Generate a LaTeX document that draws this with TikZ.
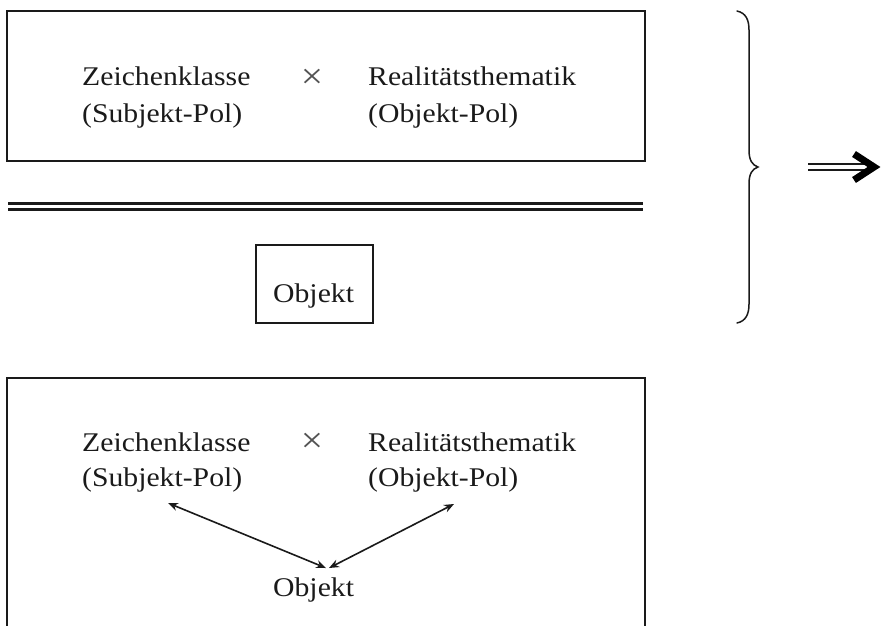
\documentclass[tikz,border=0pt]{standalone}
\usepackage{fontspec}
\setmainfont{Liberation Serif}[FakeStretch=1.1]
\usetikzlibrary{arrows.meta}
\definecolor{ink}{HTML}{1A1A1A}
\begin{document}
\begin{tikzpicture}[x=1pt,y=-1pt,
  txt/.style={anchor=base west,inner sep=0pt,font=\fontsize{27}{37}\selectfont,text=ink},
  timessign/.style={inner sep=0pt,font=\fontsize{36}{40}\selectfont,text=ink!75},
  frame/.style={draw=ink,line width=2.2pt},
  rel/.style={draw=ink,line width=1.6pt,{Stealth[length=10pt,width=8pt]}-{Stealth[length=10pt,width=8pt]}}]
\useasboundingbox (0,0) rectangle (882,625);

% upper part: sign class times reality thematic
\draw[frame] (7,11) rectangle (645,161);
\node[txt] (zk1) at (82,85) {Zeichenklasse};
\node[txt] (sp1) at (82,122) {(Subjekt-Pol)};
\node[timessign] (x1) at (312,79) {×};
\node[txt] (rt1) at (368,85) {Realitätsthematik};
\node[txt] (op1) at (368,122) {(Objekt-Pol)};

% double rule
\draw[draw=ink,line width=2.6pt] (8,203.5) -- (643,203.5);
\draw[draw=ink,line width=2.6pt] (8,209.5) -- (643,209.5);

% object below the rule
\draw[draw=ink,line width=2pt] (256,245) rectangle (373,323);
\node[txt] (ob1) at (273,302) {Objekt};

% right brace
\draw[draw=ink,line width=1.5pt,line cap=round]
  (737,11) .. controls (746,13) and (749,20) .. (749,30)
  -- (749,150) .. controls (749,160) and (752,165) .. (758,167)
  .. controls (752,169) and (749,174) .. (749,184)
  -- (749,304) .. controls (749,314) and (746,321) .. (737,323);

% implication arrow
\coordinate (impA) at (808,167);
\draw[draw=ink,line width=1.6pt] ([yshift=-2.8pt]impA) -- ++(64,0);
\draw[draw=ink,line width=1.6pt] ([yshift=2.8pt]impA) -- ++(64,0);
\draw[draw=black,line width=7pt,line join=miter,line cap=butt]
  (854,154) -- (874,167) -- (854,180);

% lower part: object between both poles
\draw[frame] (7,630) -- (7,378) -- (645,378) -- (645,630);
\node[txt] (zk2) at (82,451) {Zeichenklasse};
\node[txt] (sp2) at (82,486) {(Subjekt-Pol)};
\node[timessign] (x2) at (312,443) {×};
\node[txt] (rt2) at (368,451) {Realitätsthematik};
\node[txt] (op2) at (368,486) {(Objekt-Pol)};
\node[txt] (ob2) at (273,596) {Objekt};

\coordinate (sT) at (168,503);
\coordinate (oT) at (454,504);
\coordinate (bL) at (326,568);
\coordinate (bR) at (329,568);
\draw[rel] (sT) -- (bL);
\draw[rel] (oT) -- (bR);
\end{tikzpicture}
\end{document}
